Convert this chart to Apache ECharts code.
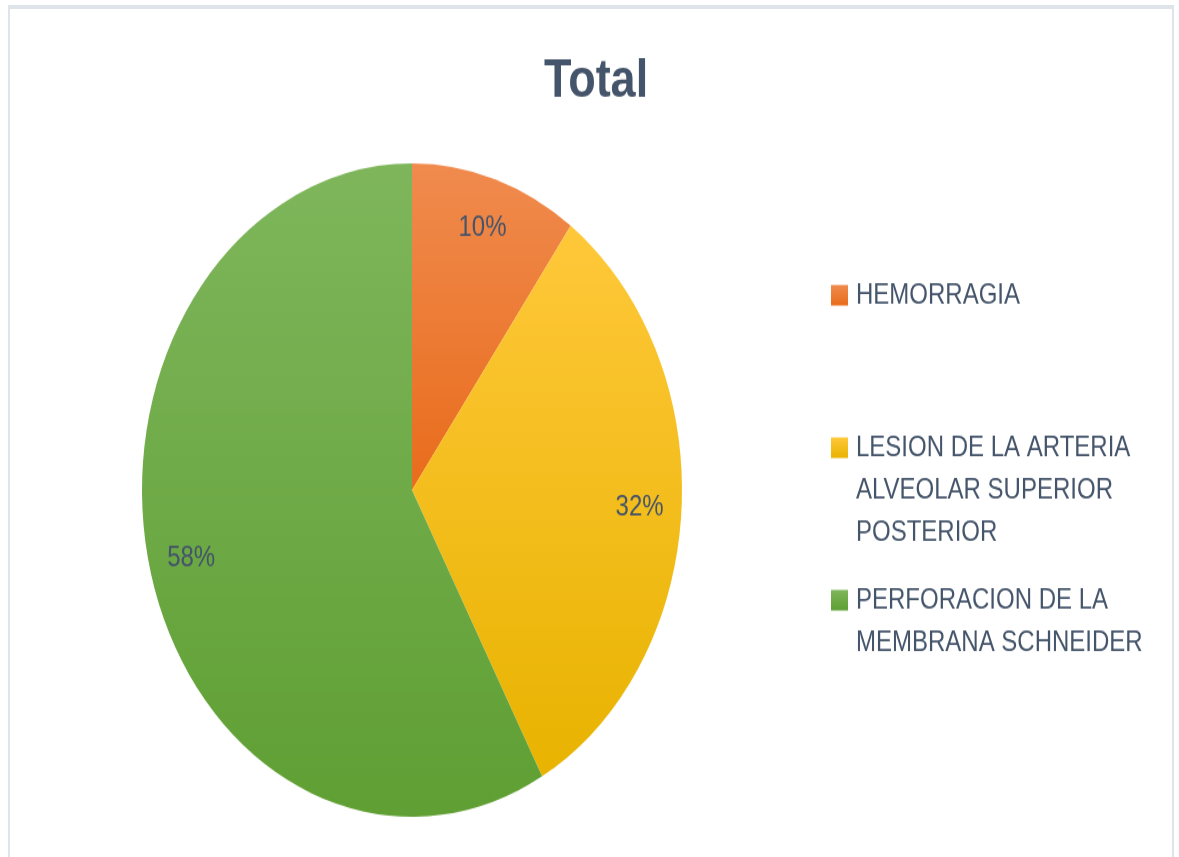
<!DOCTYPE html>
<html>
<head>
<meta charset="utf-8">
<script src="https://cdn.jsdelivr.net/npm/echarts@6/dist/echarts.min.js"></script>
<style>
  html, body { margin: 0; padding: 0; background: #fff; overflow: hidden; }
  #frame {
    position: absolute; left: 8px; top: 5px; width: 1166px; height: 860px;
    border-top: 4px solid #dfe4ea; border-left: 2px solid #dfe4ea; border-right: 2px solid #dfe4ea;
    box-sizing: border-box;
  }
  /* the original picture is stretched vertically */
  #chart {
    position: absolute; left: 0; top: 0; width: 1179px; height: 708px;
    transform: scaleY(1.21); transform-origin: 0 0;
  }
</style>
</head>
<body>
<div id="frame"></div>
<div id="chart"></div>
<script>
  const categories = ['HEMORRAGIA', 'LESION DE LA ARTERIA ALVEOLAR SUPERIOR POSTERIOR', 'PERFORACION DE LA MEMBRANA SCHNEIDER'];
  const legendLines = [
    ['HEMORRAGIA'],
    ['LESION DE LA ARTERIA', 'ALVEOLAR SUPERIOR', 'POSTERIOR'],
    ['PERFORACION DE LA', 'MEMBRANA SCHNEIDER']
  ];
  const values = [10, 32, 58];

  const topColors = ['#f08b4e', '#ffc83a', '#7fb65c'];
  const bottomColors = ['#e96c1c', '#e8b300', '#5f9f33'];
  const textColor = '#44546a';
  const lineH = 35;
  const legendFirstLine = [244, 370, 496];

  const chart = echarts.init(document.getElementById('chart'));

  const pieData = categories.map((name, i) => ({
    name: name,
    value: values[i],
    itemStyle: {
      color: new echarts.graphic.LinearGradient(0, 0, 0, 1, [
        { offset: 0, color: topColors[i] },
        { offset: 1, color: bottomColors[i] }
      ])
    }
  }));

  // one legend per item so the marker sits on the first text line
  const legends = categories.map((name, i) => {
    const n = legendLines[i].length;
    const total = 2 * n - 1;
    return {
      orient: 'vertical',
      left: 831,
      top: legendFirstLine[i] - total * lineH / 2,
      padding: 0,
      data: [name],
      icon: 'rect',
      itemWidth: 17,
      itemHeight: 17,
      selectedMode: false,
      formatter: () => '\n'.repeat(n - 1) + legendLines[i].join('\n'),
      textStyle: {
        color: textColor,
        fontFamily: 'Liberation Sans',
        fontSize: 24,
        lineHeight: lineH,
        padding: [0, 0, 0, 3]
      }
    };
  });

  chart.setOption({
    animation: false,
    title: {
      text: 'Total',
      left: 544,
      top: 45,
      padding: 0,
      textStyle: {
        color: textColor,
        fontFamily: 'Liberation Sans',
        fontWeight: 'bold',
        fontSize: 45
      }
    },
    legend: legends,
    series: [
      {
        type: 'pie',
        center: [412, 405],
        radius: 270,
        startAngle: 90,
        clockwise: true,
        label: { show: false },
        labelLine: { show: false },
        emphasis: { disabled: true },
        data: pieData
      },
      {
        // label ring, placed further out than the default inside position
        type: 'pie',
        center: [412, 405],
        radius: [180, 270],
        startAngle: 90,
        clockwise: true,
        silent: true,
        itemStyle: { color: 'transparent' },
        label: {
          show: true,
          position: 'inside',
          formatter: '{d}%',
          color: textColor,
          fontFamily: 'Liberation Sans',
          fontSize: 24
        },
        labelLine: { show: false },
        emphasis: { disabled: true },
        data: categories.map((name, i) => ({ name: name, value: values[i] }))
      }
    ]
  });
</script>
</body>
</html>
